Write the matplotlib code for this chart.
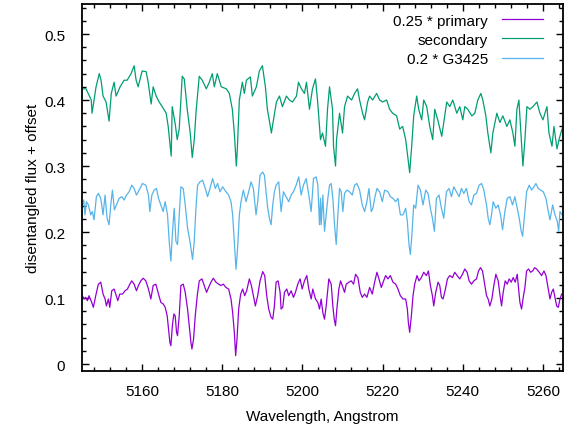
import matplotlib
matplotlib.use("Agg")
import matplotlib.pyplot as plt
from matplotlib.ticker import MultipleLocator, FormatStrFormatter

# 0.25 * primary
wl_prim = [5145.08, 5145.5, 5145.92, 5146.33, 5146.75, 5147.42, 5147.83, 5148.42, 5149.08, 5149.67,
           5150.25, 5150.75, 5151.08, 5151.58, 5151.92, 5152.42, 5153.0, 5153.42, 5153.92, 5154.42,
           5155.08, 5155.75, 5156.33, 5156.92, 5157.42, 5158.0, 5158.58, 5159.08, 5159.67, 5160.25,
           5160.92, 5161.58, 5162.17, 5162.75, 5163.42, 5164.08, 5164.67, 5165.25, 5165.75, 5166.25,
           5166.58, 5166.92, 5167.17, 5167.58, 5167.92, 5168.25, 5168.58, 5168.83, 5169.25, 5169.67,
           5170.25, 5170.75, 5171.33, 5171.75, 5172.17, 5172.42, 5172.83, 5173.25, 5173.75, 5174.25,
           5174.92, 5175.5, 5176.08, 5176.58, 5177.17, 5177.75, 5178.42, 5179.08, 5179.67, 5180.25,
           5180.92, 5181.58, 5182.17, 5182.58, 5183.0, 5183.33, 5183.67, 5184.08, 5184.58, 5185.08,
           5185.58, 5186.08, 5186.75, 5187.25, 5187.75, 5188.25, 5188.83, 5189.42, 5190.08, 5190.58,
           5191.08, 5191.58, 5192.17, 5192.58, 5193.0, 5193.42, 5193.92, 5194.42, 5194.67, 5195.08,
           5195.5, 5196.08, 5196.58, 5197.17, 5197.75, 5198.25, 5198.83, 5199.42, 5199.92, 5200.5,
           5201.08, 5201.58, 5202.17, 5202.58, 5203.25, 5203.83, 5204.25, 5204.67, 5205.08, 5205.5,
           5205.92, 5206.58, 5207.17, 5207.58, 5207.92, 5208.25, 5208.58, 5209.08, 5209.5, 5209.92,
           5210.5, 5210.92, 5211.58, 5212.17, 5212.75, 5213.25, 5213.83, 5214.42, 5214.92, 5215.5,
           5216.08, 5216.75, 5217.42, 5218.0, 5218.58, 5219.08, 5219.67, 5220.25, 5220.75, 5221.33,
           5221.92, 5222.58, 5223.25, 5223.83, 5224.42, 5225.08, 5225.75, 5226.17, 5226.42, 5226.75,
           5227.17, 5227.58, 5228.0, 5228.58, 5229.08, 5229.67, 5230.25, 5230.92, 5231.42, 5231.92,
           5232.42, 5232.75, 5233.25, 5233.83, 5234.25, 5234.67, 5235.08, 5235.67, 5236.17, 5236.75,
           5237.42, 5238.0, 5238.58, 5239.25, 5239.92, 5240.5, 5241.08, 5241.58, 5242.17, 5242.75,
           5243.42, 5243.92, 5244.42, 5244.92, 5245.5, 5245.92, 5246.33, 5246.75, 5247.25, 5247.75,
           5248.25, 5248.83, 5249.25, 5249.67, 5250.08, 5250.58, 5251.08, 5251.58, 5252.08, 5252.58,
           5253.08, 5253.58, 5253.92, 5254.25, 5254.67, 5255.08, 5255.5, 5255.92, 5256.42, 5256.92,
           5257.42, 5257.92, 5258.42, 5259.08, 5259.67, 5260.25, 5260.75, 5261.33, 5261.75, 5262.17,
           5262.58, 5263.0, 5263.42, 5263.83, 5264.25, 5264.67]
fx_prim = [0.1035, 0.0985, 0.101, 0.096, 0.1035, 0.0934, 0.0859, 0.1035, 0.121, 0.124,
           0.106, 0.0985, 0.088, 0.0985, 0.0859, 0.111, 0.1136, 0.106, 0.096, 0.106,
           0.106, 0.111, 0.1136, 0.121, 0.126, 0.121, 0.111, 0.119, 0.126, 0.130,
           0.126, 0.1136, 0.0985, 0.119, 0.121, 0.106, 0.0934, 0.091, 0.0859, 0.073,
           0.053, 0.0328, 0.0278, 0.0606, 0.0758, 0.073, 0.048, 0.0429, 0.073, 0.119,
           0.121, 0.1086, 0.0833, 0.058, 0.0328, 0.0227, 0.038, 0.073, 0.1035, 0.126,
           0.129, 0.119, 0.1086, 0.116, 0.124, 0.130, 0.124, 0.121, 0.119, 0.121,
           0.116, 0.1136, 0.0985, 0.078, 0.048, 0.0126, 0.038, 0.0833, 0.106, 0.1136,
           0.1035, 0.111, 0.129, 0.119, 0.1035, 0.088, 0.1035, 0.126, 0.140, 0.134,
           0.1035, 0.0833, 0.0707, 0.068, 0.088, 0.124, 0.126, 0.1086, 0.0833, 0.0859,
           0.1086, 0.1136, 0.1035, 0.111, 0.101, 0.1086, 0.121, 0.129, 0.1136, 0.126,
           0.134, 0.1136, 0.0985, 0.1136, 0.0985, 0.0934, 0.0833, 0.0985, 0.078, 0.068,
           0.088, 0.129, 0.121, 0.088, 0.068, 0.058, 0.0833, 0.1136, 0.126, 0.119,
           0.1086, 0.121, 0.124, 0.126, 0.121, 0.136, 0.131, 0.1086, 0.101, 0.106,
           0.101, 0.116, 0.106, 0.124, 0.139, 0.129, 0.116, 0.126, 0.134, 0.129,
           0.134, 0.124, 0.121, 0.1136, 0.1035, 0.0985, 0.0985, 0.0833, 0.063, 0.048,
           0.073, 0.1035, 0.121, 0.134, 0.126, 0.131, 0.139, 0.134, 0.141, 0.119,
           0.1035, 0.088, 0.1086, 0.124, 0.119, 0.101, 0.0985, 0.1136, 0.129, 0.134,
           0.131, 0.139, 0.134, 0.129, 0.136, 0.144, 0.139, 0.126, 0.121, 0.126,
           0.129, 0.141, 0.146, 0.141, 0.119, 0.1035, 0.0985, 0.088, 0.0985, 0.119,
           0.136, 0.126, 0.106, 0.088, 0.1086, 0.126, 0.121, 0.129, 0.124, 0.131,
           0.124, 0.136, 0.1136, 0.0934, 0.0833, 0.101, 0.116, 0.141, 0.144, 0.139,
           0.141, 0.146, 0.144, 0.139, 0.134, 0.141, 0.134, 0.1136, 0.0985, 0.1086,
           0.1136, 0.101, 0.088, 0.0859, 0.0985, 0.106]

# secondary
wl_sec = [5145.0, 5146.0, 5147.3, 5147.5, 5148.5, 5149.3, 5149.75, 5150.25, 5151.0, 5151.75,
          5152.3, 5153.0, 5153.5, 5154.5, 5155.5, 5156.25, 5157.25, 5158.0, 5158.5, 5159.0,
          5160.0, 5161.0, 5161.5, 5162.25, 5162.75, 5163.5, 5164.25, 5165.0, 5166.0, 5166.5,
          5167.25, 5167.5, 5168.25, 5168.75, 5169.25, 5170.0, 5170.5, 5171.25, 5172.0, 5172.5,
          5173.0, 5173.5, 5174.25, 5175.0, 5176.0, 5176.75, 5177.5, 5178.0, 5178.75, 5179.75,
          5181.0, 5181.75, 5182.5, 5183.0, 5183.5, 5183.75, 5184.25, 5185.0, 5185.5, 5186.0,
          5187.0, 5187.5, 5188.5, 5189.25, 5190.0, 5190.75, 5191.25, 5192.25, 5192.5, 5193.5,
          5194.25, 5195.0, 5196.0, 5196.75, 5197.5, 5198.5, 5199.0, 5199.75, 5200.5, 5201.0,
          5201.75, 5202.5, 5203.25, 5203.75, 5204.5, 5205.0, 5205.75, 5206.25, 5206.75, 5207.5,
          5207.75, 5208.25, 5208.5, 5209.25, 5210.0, 5210.5, 5211.25, 5212.25, 5213.0, 5213.75,
          5214.25, 5215.0, 5215.5, 5216.25, 5216.75, 5217.5, 5218.5, 5219.25, 5220.0, 5221.0,
          5221.75, 5222.5, 5223.5, 5224.25, 5225.0, 5225.75, 5226.25, 5226.75, 5227.25, 5227.75,
          5228.5, 5229.0, 5229.75, 5230.25, 5231.0, 5231.75, 5232.5, 5233.0, 5233.75, 5234.75,
          5235.25, 5236.0, 5236.75, 5237.5, 5238.5, 5239.25, 5240.0, 5240.5, 5241.25, 5242.25,
          5243.0, 5243.75, 5244.5, 5245.0, 5245.75, 5246.25, 5247.0, 5247.5, 5248.5, 5249.25,
          5250.0, 5251.0, 5251.75, 5252.5, 5253.0, 5253.5, 5254.0, 5254.5, 5255.0, 5255.5,
          5256.0, 5256.75, 5257.5, 5258.5, 5259.25, 5260.0, 5261.0, 5261.5, 5262.25, 5262.75,
          5263.5, 5264.0, 5264.75]
fx_sec = [0.417, 0.417, 0.400, 0.380, 0.420, 0.440, 0.430, 0.406, 0.397, 0.368,
          0.410, 0.427, 0.406, 0.420, 0.430, 0.430, 0.440, 0.452, 0.430, 0.420,
          0.444, 0.443, 0.427, 0.394, 0.420, 0.406, 0.397, 0.390, 0.380, 0.360,
          0.315, 0.390, 0.364, 0.340, 0.356, 0.436, 0.432, 0.386, 0.350, 0.313,
          0.340, 0.386, 0.436, 0.430, 0.417, 0.427, 0.440, 0.420, 0.440, 0.420,
          0.417, 0.410, 0.386, 0.350, 0.300, 0.326, 0.400, 0.427, 0.410, 0.430,
          0.435, 0.406, 0.420, 0.444, 0.452, 0.420, 0.386, 0.350, 0.360, 0.397,
          0.406, 0.390, 0.406, 0.400, 0.397, 0.406, 0.427, 0.417, 0.410, 0.427,
          0.386, 0.417, 0.432, 0.400, 0.340, 0.350, 0.330, 0.386, 0.420, 0.386,
          0.330, 0.300, 0.340, 0.380, 0.350, 0.390, 0.406, 0.400, 0.410, 0.417,
          0.400, 0.380, 0.370, 0.397, 0.406, 0.400, 0.410, 0.400, 0.397, 0.400,
          0.386, 0.380, 0.376, 0.356, 0.360, 0.340, 0.315, 0.290, 0.330, 0.376,
          0.406, 0.386, 0.370, 0.400, 0.390, 0.360, 0.340, 0.386, 0.370, 0.345,
          0.366, 0.397, 0.390, 0.400, 0.380, 0.390, 0.370, 0.390, 0.386, 0.376,
          0.380, 0.400, 0.410, 0.400, 0.376, 0.350, 0.320, 0.350, 0.380, 0.366,
          0.376, 0.360, 0.370, 0.350, 0.330, 0.386, 0.400, 0.350, 0.300, 0.340,
          0.390, 0.386, 0.390, 0.397, 0.380, 0.370, 0.390, 0.350, 0.330, 0.360,
          0.326, 0.340, 0.356]

# 0.2 * G3425
wl_g = [5145.08, 5145.42, 5145.75, 5146.08, 5146.58, 5147.17, 5147.58, 5148.0, 5148.58, 5149.08,
        5149.67, 5150.25, 5150.75, 5151.25, 5151.75, 5152.17, 5152.58, 5153.08, 5153.58, 5154.25,
        5154.92, 5155.5, 5156.08, 5156.75, 5157.42, 5158.0, 5158.58, 5159.25, 5160.08, 5160.92,
        5161.58, 5161.92, 5162.42, 5163.0, 5163.58, 5164.08, 5164.67, 5165.25, 5165.75, 5166.33,
        5166.75, 5167.17, 5167.58, 5168.0, 5168.42, 5168.83, 5169.25, 5169.67, 5170.25, 5170.75,
        5171.33, 5171.92, 5172.58, 5173.0, 5173.42, 5173.83, 5174.42, 5175.08, 5175.75, 5176.33,
        5176.92, 5177.58, 5178.25, 5178.83, 5179.42, 5180.08, 5180.92, 5181.58, 5182.17, 5182.58,
        5183.0, 5183.42, 5183.83, 5184.25, 5184.67, 5185.25, 5185.92, 5186.58, 5187.17, 5187.75,
        5188.42, 5188.83, 5189.42, 5190.08, 5190.5, 5190.92, 5191.33, 5191.75, 5192.17, 5192.58,
        5193.0, 5193.42, 5194.08, 5194.67, 5195.25, 5195.92, 5196.58, 5197.17, 5197.75, 5198.42,
        5199.08, 5199.67, 5200.25, 5200.92, 5201.58, 5202.17, 5202.75, 5203.42, 5203.83, 5204.25,
        5204.5, 5204.67, 5205.08, 5205.5, 5205.92, 5206.33, 5206.75, 5207.17, 5207.58, 5208.0,
        5208.42, 5208.83, 5209.25, 5209.67, 5210.08, 5210.5, 5211.08, 5211.75, 5212.42, 5213.0,
        5213.58, 5214.25, 5214.92, 5215.5, 5216.08, 5216.58, 5217.17, 5217.58, 5218.0, 5218.58,
        5219.25, 5219.92, 5220.5, 5221.33, 5221.92, 5222.58, 5223.25, 5223.83, 5224.42, 5225.08,
        5225.75, 5226.17, 5226.58, 5226.92, 5227.25, 5227.75, 5228.25, 5228.83, 5229.42, 5230.08,
        5230.75, 5231.33, 5231.92, 5232.42, 5232.92, 5233.42, 5234.08, 5234.67, 5235.25, 5235.92,
        5236.58, 5237.17, 5237.75, 5238.42, 5239.08, 5239.67, 5240.25, 5240.92, 5241.58, 5242.17,
        5242.75, 5243.42, 5244.08, 5244.67, 5245.25, 5245.92, 5246.33, 5246.75, 5247.17, 5247.58,
        5248.25, 5248.83, 5249.42, 5249.92, 5250.5, 5251.08, 5251.75, 5252.42, 5253.0, 5253.58,
        5254.08, 5254.58, 5254.92, 5255.42, 5255.92, 5256.58, 5257.17, 5257.75, 5258.25, 5258.83,
        5259.42, 5260.08, 5260.75, 5261.33, 5261.75, 5262.42, 5263.0, 5263.58, 5263.92, 5264.25,
        5264.9]
fx_g = [0.241, 0.2485, 0.226, 0.246, 0.241, 0.226, 0.231, 0.2185, 0.2535, 0.2585,
        0.251, 0.226, 0.256, 0.221, 0.211, 0.241, 0.2635, 0.2335, 0.241, 0.251,
        0.2535, 0.2485, 0.256, 0.261, 0.271, 0.266, 0.256, 0.2635, 0.2735, 0.271,
        0.256, 0.231, 0.256, 0.2635, 0.266, 0.251, 0.241, 0.231, 0.246, 0.226,
        0.186, 0.156, 0.201, 0.236, 0.186, 0.181, 0.226, 0.2685, 0.266, 0.241,
        0.206, 0.186, 0.1585, 0.186, 0.236, 0.271, 0.276, 0.2785, 0.266, 0.2535,
        0.266, 0.281, 0.266, 0.2735, 0.261, 0.2685, 0.261, 0.256, 0.246, 0.226,
        0.186, 0.1435, 0.177, 0.226, 0.246, 0.2635, 0.246, 0.261, 0.276, 0.266,
        0.226, 0.246, 0.286, 0.291, 0.286, 0.261, 0.236, 0.221, 0.211, 0.241,
        0.261, 0.271, 0.276, 0.231, 0.261, 0.2535, 0.246, 0.256, 0.261, 0.271,
        0.2835, 0.256, 0.271, 0.281, 0.256, 0.231, 0.281, 0.2835, 0.271, 0.211,
        0.251, 0.211, 0.256, 0.201, 0.226, 0.251, 0.271, 0.2735, 0.251, 0.211,
        0.181, 0.226, 0.266, 0.261, 0.231, 0.2585, 0.2635, 0.261, 0.256, 0.271,
        0.2735, 0.2635, 0.241, 0.231, 0.246, 0.266, 0.231, 0.236, 0.251, 0.266,
        0.261, 0.246, 0.2635, 0.261, 0.2535, 0.251, 0.246, 0.251, 0.226, 0.226,
        0.236, 0.216, 0.181, 0.166, 0.191, 0.241, 0.236, 0.271, 0.2635, 0.241,
        0.2635, 0.2585, 0.236, 0.221, 0.201, 0.251, 0.256, 0.236, 0.221, 0.261,
        0.266, 0.2535, 0.2685, 0.261, 0.2535, 0.266, 0.2585, 0.266, 0.246, 0.241,
        0.256, 0.2585, 0.271, 0.2735, 0.2635, 0.241, 0.221, 0.211, 0.226, 0.246,
        0.236, 0.241, 0.226, 0.2035, 0.231, 0.251, 0.2535, 0.241, 0.2535, 0.236,
        0.221, 0.201, 0.1935, 0.226, 0.261, 0.271, 0.2635, 0.2685, 0.2735, 0.266,
        0.2635, 0.261, 0.251, 0.231, 0.2185, 0.241, 0.226, 0.216, 0.201, 0.231,
        0.225]

plt.rcParams['font.family'] = ['Liberation Sans', 'DejaVu Sans']
plt.rcParams['font.size'] = 11

fig = plt.figure(figsize=(5.7, 4.35), dpi=100)
ax = fig.add_axes([0.1439, 0.1448, 0.8438, 0.8437])

ax.plot(wl_prim, fx_prim, color='#9400D3', lw=0.9, label='0.25 * primary')
ax.plot(wl_sec, fx_sec, color='#009E73', lw=0.9, label='secondary')
ax.plot(wl_g, fx_g, color='#56B4E9', lw=0.9, label='0.2 * G3425')

ax.set_xlim(5145, 5265)
ax.set_ylim(-0.0106, 0.5455)
ax.xaxis.set_major_locator(MultipleLocator(20))
ax.xaxis.set_minor_locator(MultipleLocator(4))
ax.yaxis.set_major_locator(MultipleLocator(0.1))
ax.yaxis.set_minor_locator(MultipleLocator(0.02))
ax.yaxis.set_major_formatter(FormatStrFormatter('%g'))

ax.tick_params(which='both', direction='in', top=True, right=True)
ax.tick_params(which='major', length=5, width=1)
ax.tick_params(which='minor', length=3, width=1)
ax.tick_params(axis='x', pad=9)
ax.tick_params(axis='y', pad=12)
for s in ax.spines.values():
    s.set_linewidth(1.3)

ax.set_xlabel("Wavelength, Angstrom", labelpad=8)
ax.set_ylabel("disentangled flux + offset", labelpad=3)

ax.legend(loc='upper right', bbox_to_anchor=(0.971, 0.99), frameon=False,
          markerfirst=False, handlelength=2.7, handletextpad=0.9,
          labelspacing=0.33, borderaxespad=0.0, fontsize=11)

fig.savefig("out.png", dpi=100)
